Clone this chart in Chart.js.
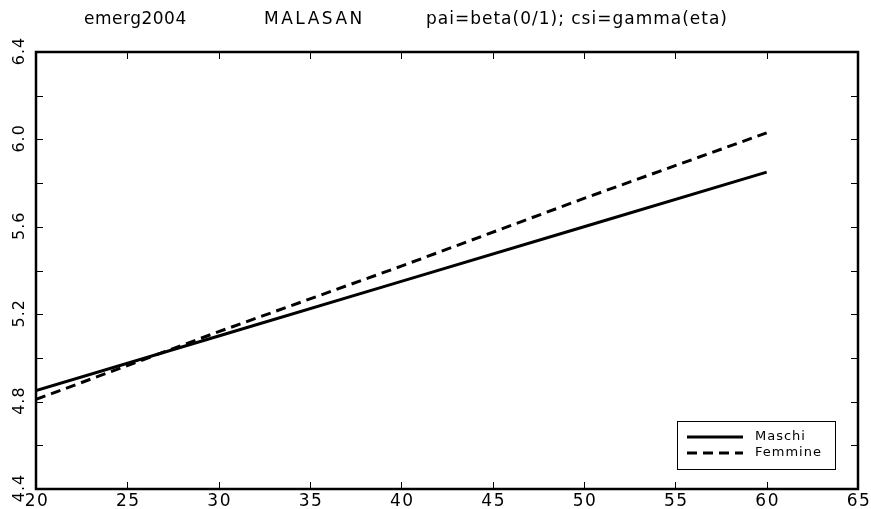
<!DOCTYPE html>
<html>
<head>
<meta charset="utf-8">
<script src="https://cdn.jsdelivr.net/npm/chart.js@4.4.0/dist/chart.umd.min.js"></script>
<style>
  html, body { margin: 0; padding: 0; background: #fff; }
  #wrap { width: 871px; height: 509px; }
</style>
</head>
<body>
<div id="wrap"><canvas id="c" width="871" height="509"></canvas></div>
<script>
"use strict";
var titleParts = ['emerg2004', 'MALASAN', 'pai=beta(0/1); csi=gamma(eta)'];
var ages = [20, 30, 40, 50, 60];
var maschi = [4.85, 5.10, 5.35, 5.60, 5.85];
var femmine = [4.81, 5.12, 5.42, 5.73, 6.03];
var xTicks = [20, 25, 30, 35, 40, 45, 50, 55, 60, 65];
var yTicks = [4.4, 4.6, 4.8, 5.0, 5.2, 5.4, 5.6, 5.8, 6.0, 6.2, 6.4];
var yLabels = [4.4, 4.8, 5.2, 5.6, 6.0, 6.4];
var FONT = '"DejaVu Sans", sans-serif';

function pts(ys) {
    return ages.map(function(a, i) { return { x: a, y: ys[i] }; });
}

var framePlugin = {
    id: 'frame',
    afterDraw: function(chart) {
        var ctx = chart.ctx;
        var a = chart.chartArea;
        var xs = chart.scales.x, ys = chart.scales.y;
        ctx.save();
        ctx.strokeStyle = '#000';
        ctx.fillStyle = '#000';
        // inward ticks on all four sides
        ctx.lineWidth = 1;
        xTicks.forEach(function(v) {
            var px = Math.round(xs.getPixelForValue(v)) + 0.5;
            ctx.beginPath();
            ctx.moveTo(px, a.bottom); ctx.lineTo(px, a.bottom - 7);
            ctx.moveTo(px, a.top); ctx.lineTo(px, a.top + 7);
            ctx.stroke();
        });
        yTicks.forEach(function(v) {
            var py = Math.round(ys.getPixelForValue(v)) + 0.5;
            ctx.beginPath();
            ctx.moveTo(a.left, py); ctx.lineTo(a.left + 7, py);
            ctx.moveTo(a.right, py); ctx.lineTo(a.right - 7, py);
            ctx.stroke();
        });
        ctx.lineWidth = 2.5;
        ctx.strokeRect(a.left, a.top, a.right - a.left, a.bottom - a.top);
        // x labels
        ctx.font = '17px ' + FONT;
        ctx.letterSpacing = '1.5px';
        ctx.textAlign = 'center';
        ctx.textBaseline = 'top';
        xTicks.forEach(function(v) {
            ctx.fillText(String(v), xs.getPixelForValue(v) + 1, a.bottom + 4);
        });
        // y labels, rotated
        ctx.font = '16px ' + FONT;
        ctx.letterSpacing = '1px';
        yLabels.forEach(function(v) {
            ctx.save();
            ctx.translate(a.left - 8, ys.getPixelForValue(v));
            ctx.rotate(-Math.PI / 2);
            ctx.textAlign = 'center';
            ctx.textBaseline = 'bottom';
            ctx.fillText(v.toFixed(1), 1, 0);
            ctx.restore();
        });
        // title
        ctx.font = '17px ' + FONT;
        ctx.textBaseline = 'middle';
        ctx.textAlign = 'left';
        var lefts = [84, 264, 426];
        var spacing = ['0.5px', '2.5px', '1px'];
        titleParts.forEach(function(t, i) {
            ctx.letterSpacing = spacing[i];
            ctx.fillText(t, lefts[i], 20);
        });
        // legend box
        ctx.letterSpacing = '1px';
        ctx.lineWidth = 1;
        ctx.strokeRect(677.5, 421.5, 158, 48);
        ctx.font = '13px ' + FONT;
        chart.data.datasets.forEach(function(ds, i) {
            var y = 437 + i * 16;
            ctx.lineWidth = 3;
            ctx.setLineDash(ds.borderDash || []);
            ctx.beginPath();
            ctx.moveTo(687, y); ctx.lineTo(743, y);
            ctx.stroke();
            ctx.setLineDash([]);
            ctx.fillText(ds.label, 755, y);
        });
        ctx.restore();
    }
};

new Chart(document.getElementById('c').getContext('2d'), {
    type: 'line',
    data: {
        datasets: [
            { label: 'Maschi', data: pts(maschi), borderColor: '#000', borderWidth: 3, pointRadius: 0, fill: false },
            { label: 'Femmine', data: pts(femmine), borderColor: '#000', borderWidth: 3, borderDash: [10, 6], pointRadius: 0, fill: false }
        ]
    },
    options: {
        responsive: false,
        animation: false,
        layout: { padding: { left: 36, right: 13, top: 52, bottom: 20 } },
        plugins: { legend: { display: false }, title: { display: false }, tooltip: { enabled: false } },
        scales: {
            x: { type: 'linear', min: 20, max: 65, display: false },
            y: { type: 'linear', min: 4.4, max: 6.4, display: false }
        }
    },
    plugins: [framePlugin]
});
</script>
</body>
</html>
